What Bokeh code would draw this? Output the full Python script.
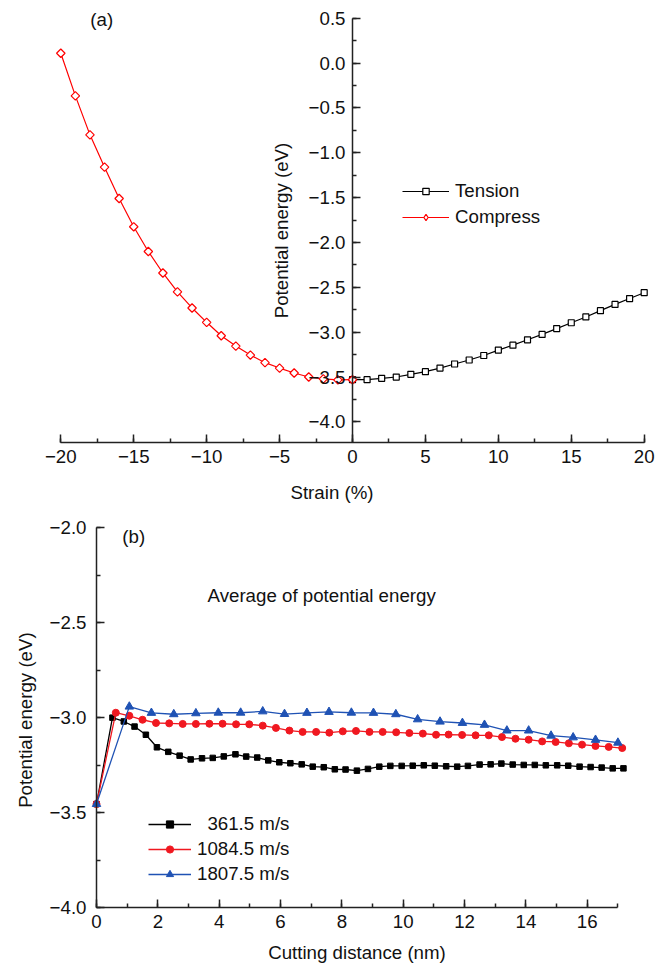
import numpy as np
from bokeh.plotting import figure
from bokeh.layouts import column
from bokeh.models import (Legend, LegendItem, Label, SingleIntervalTicker,
                          CustomJSTickFormatter, Range1d)
from bokeh.core.properties import value
from bokeh.embed import file_html
from bokeh.resources import INLINE

# ---------------- data: panel (a) ----------------
strain_compress = [-20, -19, -18, -17, -16, -15, -14, -13, -12, -11, -10,
                   -9, -8, -7, -6, -5, -4, -3, -2, -1, 0]
energy_compress = [0.11, -0.365, -0.80, -1.16, -1.51, -1.825, -2.10, -2.34,
                   -2.55, -2.73, -2.89, -3.04, -3.155, -3.255, -3.34, -3.40,
                   -3.455, -3.50, -3.52, -3.532, -3.53]
strain_tension = [0, 1, 2, 3, 4, 5, 6, 7, 8, 9, 10, 11, 12, 13, 14, 15, 16,
                  17, 18, 19, 20]
energy_tension = [-3.53, -3.53, -3.515, -3.50, -3.47, -3.44, -3.40, -3.355,
                  -3.31, -3.26, -3.20, -3.145, -3.085, -3.025, -2.96, -2.895,
                  -2.83, -2.76, -2.69, -2.625, -2.56]

# ---------------- data: panel (b) ----------------
dist_361 = [0, 0.52, 0.89, 1.24, 1.61, 1.97, 2.34, 2.71, 3.07, 3.44, 3.79,
            4.15, 4.53, 4.88, 5.24, 5.60, 5.96, 6.32, 6.69, 7.05, 7.41, 7.77,
            8.12, 8.49, 8.85, 9.22, 9.58, 9.95, 10.31, 10.67, 11.03, 11.40,
            11.76, 12.11, 12.49, 12.85, 13.20, 13.57, 13.93, 14.29, 14.65,
            15.02, 15.38, 15.75, 16.11, 16.47, 16.83, 17.18]
pe_361 = [-3.455, -3.00, -3.02, -3.047, -3.09, -3.156, -3.18, -3.20, -3.22,
          -3.214, -3.212, -3.204, -3.193, -3.205, -3.21, -3.225, -3.235, -3.24,
          -3.246, -3.258, -3.261, -3.272, -3.273, -3.279, -3.27, -3.258,
          -3.254, -3.254, -3.253, -3.251, -3.253, -3.256, -3.258, -3.254,
          -3.247, -3.246, -3.242, -3.247, -3.249, -3.249, -3.251, -3.251,
          -3.253, -3.258, -3.26, -3.263, -3.267, -3.267]

dist_1084 = [0, 0.63, 1.07, 1.50, 1.94, 2.37, 2.81, 3.24, 3.68, 4.11, 4.55,
             4.98, 5.42, 5.85, 6.29, 6.72, 7.16, 7.59, 8.03, 8.46, 8.90, 9.33,
             9.77, 10.20, 10.64, 11.07, 11.48, 11.92, 12.36, 12.79, 13.22,
             13.66, 14.09, 14.53, 14.97, 15.40, 15.83, 16.27, 16.70, 17.14]
pe_1084 = [-3.455, -2.974, -2.99, -3.011, -3.028, -3.03, -3.033, -3.033,
           -3.032, -3.032, -3.035, -3.035, -3.042, -3.054, -3.068, -3.075,
           -3.075, -3.079, -3.072, -3.07, -3.075, -3.075, -3.077, -3.081,
           -3.084, -3.09, -3.089, -3.091, -3.093, -3.093, -3.102, -3.111,
           -3.116, -3.125, -3.128, -3.135, -3.142, -3.149, -3.154, -3.16]

dist_1807 = [0, 1.07, 1.79, 2.52, 3.24, 3.97, 4.70, 5.42, 6.13, 6.86, 7.58,
             8.31, 9.03, 9.76, 10.47, 11.20, 11.93, 12.65, 13.38, 14.09,
             14.82, 15.54, 16.27, 17.0]
pe_1807 = [-3.455, -2.942, -2.975, -2.982, -2.977, -2.974, -2.974, -2.967,
           -2.981, -2.975, -2.97, -2.974, -2.975, -2.982, -3.009, -3.021,
           -3.028, -3.038, -3.068, -3.068, -3.095, -3.104, -3.117, -3.132]

labels_b = ["\u00a0\u00a0361.5 m/s", "1084.5 m/s", "1807.5 m/s"]

FONT = "Liberation Sans"
FS = "18.7px"
AXC = "#222222"
TXT = "#111111"
RED_A = "#ff0000"
RED_B = "#f01820"
BLUE_B = "#1f52b4"


def fmt(decimals):
    zero = "0" if decimals == 0 else "0." + "0" * decimals
    return CustomJSTickFormatter(code=(
        "var s = Math.abs(tick) < 1e-9 ? '%s' : tick.toFixed(%d);"
        "return s.replace('-', '\\u2212');" % (zero, decimals)))


def style_axis(ax, standoff, label_standoff):
    ax.axis_line_color = AXC
    ax.axis_line_width = 1.5
    ax.major_tick_line_color = AXC
    ax.major_tick_line_width = 1.5
    ax.minor_tick_line_color = AXC
    ax.minor_tick_line_width = 1.5
    ax.major_tick_in = 8
    ax.major_tick_out = 0
    ax.minor_tick_in = 4
    ax.minor_tick_out = 0
    ax.major_label_text_font = FONT
    ax.major_label_text_font_size = FS
    ax.major_label_text_color = TXT
    ax.major_label_standoff = standoff
    ax.axis_label_text_font = FONT
    ax.axis_label_text_font_size = FS
    ax.axis_label_text_font_style = "normal"
    ax.axis_label_text_color = TXT
    ax.axis_label_standoff = label_standoff


# ---------------- panel (a) ----------------
pa = figure(width=667, height=505,
            x_range=Range1d(-23.449, 20.638), y_range=Range1d(-4.23, 0.62),
            min_border_left=10, min_border_right=14, min_border_top=7,
            min_border_bottom=63,
            output_backend="svg", toolbar_location=None)
pa.grid.visible = False
pa.outline_line_color = None
pa.background_fill_color = "white"

xa = pa.xaxis[0]
xa.ticker = SingleIntervalTicker(interval=5, num_minor_ticks=2)
xa.formatter = fmt(0)
xa.bounds = (-20, 20)
xa.axis_label = "Strain (%)"
style_axis(xa, 7, 16)

ya = pa.yaxis[0]
ya.ticker = SingleIntervalTicker(interval=0.5, num_minor_ticks=2)
ya.formatter = fmt(1)
ya.bounds = (-4.23, 0.5)
ya.fixed_location = 0
ya.axis_label = "Potential energy (eV)"
style_axis(ya, 7, 14)

lt = pa.line(strain_tension, energy_tension, line_color="black", line_width=1.2)
st = pa.scatter(strain_tension, energy_tension, marker="square", size=6,
                line_color="black", fill_color="white", line_width=1.2)
lc = pa.line(strain_compress, energy_compress, line_color=RED_A, line_width=1.2)
sc = pa.scatter(strain_compress, energy_compress, marker="square",
                angle=np.pi / 4, size=6, line_color=RED_A, fill_color="white",
                line_width=1.2)
# legend swatch for the diamond markers (legend swatches ignore angle)
sc_key = pa.scatter(x=[np.nan], y=[np.nan], marker="diamond", size=10,
                    line_color=RED_A, fill_color="white", line_width=1.2)

leg_a = Legend(items=[LegendItem(label=value("Tension"), renderers=[lt, st]),
                      LegendItem(label=value("Compress"), renderers=[lc, sc_key])],
               location=(392, 214), padding=0, margin=0, spacing=4,
               glyph_width=47, glyph_height=16, label_height=22,
               label_standoff=6, label_text_font=FONT,
               label_text_font_size=FS, label_text_color=TXT,
               border_line_color=None, background_fill_alpha=0)
pa.add_layout(leg_a)

pa.add_layout(Label(x=-17.98, y=0.49, text="(a)", text_font=FONT,
                    text_font_size=FS, text_color=TXT,
                    text_baseline="middle", text_align="left"))

# ---------------- panel (b) ----------------
pb = figure(width=667, height=462,
            x_range=Range1d(-2.804, 18.16), y_range=Range1d(-4.30, -1.93),
            min_border_left=10, min_border_right=14, min_border_top=9,
            min_border_bottom=3,
            output_backend="svg", toolbar_location=None)
pb.grid.visible = False
pb.outline_line_color = None
pb.background_fill_color = "white"

xb = pb.xaxis[0]
xb.ticker = SingleIntervalTicker(interval=2, num_minor_ticks=2)
xb.formatter = fmt(0)
xb.bounds = (0, 17)
xb.fixed_location = -4.0
xb.axis_label = "Cutting distance (nm)"
style_axis(xb, 7, 11)

yb = pb.yaxis[0]
yb.ticker = SingleIntervalTicker(interval=0.5, num_minor_ticks=2)
yb.formatter = fmt(1)
yb.bounds = (-4.0, -2.0)
yb.fixed_location = 0
yb.axis_label = "Potential  energy (eV)"
style_axis(yb, 10, 11)

l1 = pb.line(dist_361, pe_361, line_color="black", line_width=1.3)
s1 = pb.scatter(dist_361, pe_361, marker="square", size=5.5,
                line_color="black", fill_color="black")
l2 = pb.line(dist_1084, pe_1084, line_color=RED_B, line_width=1.3)
s2 = pb.scatter(dist_1084, pe_1084, marker="circle", size=7,
                line_color=RED_B, fill_color=RED_B)
l3 = pb.line(dist_1807, pe_1807, line_color=BLUE_B, line_width=1.3)
s3 = pb.scatter(dist_1807, pe_1807, marker="triangle", size=8.5,
                line_color=BLUE_B, fill_color=BLUE_B)

leg_b = Legend(items=[LegendItem(label=value(labels_b[0]), renderers=[l1, s1]),
                      LegendItem(label=value(labels_b[1]), renderers=[l2, s2]),
                      LegendItem(label=value(labels_b[2]), renderers=[l3, s3])],
               location=(138, 79), padding=0, margin=0, spacing=3,
               glyph_width=43, glyph_height=18, label_height=20,
               label_standoff=6, label_text_font=FONT,
               label_text_font_size=FS, label_text_color=TXT,
               border_line_color=None, background_fill_alpha=0)
pb.add_layout(leg_b)

pb.add_layout(Label(x=0.84, y=-2.045, text="(b)", text_font=FONT,
                    text_font_size=FS, text_color=TXT,
                    text_baseline="middle", text_align="left"))
pb.add_layout(Label(x=3.62, y=-2.358, text="Average of potential energy",
                    text_font=FONT, text_font_size=FS, text_color=TXT,
                    text_baseline="middle", text_align="left"))

for f in (pa, pb):
    try:
        f.frame_align = False
    except Exception:
        pass

layout = column(pa, pb, spacing=0)
open("out.html", "w").write(file_html(layout, INLINE))
